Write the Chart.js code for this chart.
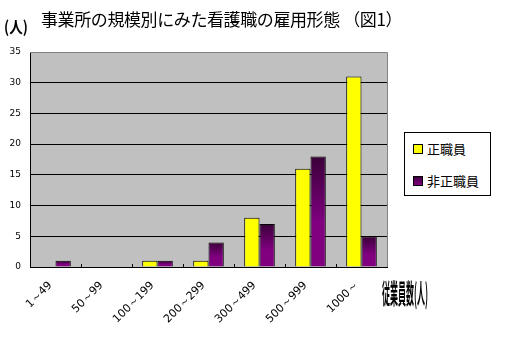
<!DOCTYPE html>
<html>
<head>
<meta charset="utf-8">
<script src="https://cdn.jsdelivr.net/npm/chart.js@4"></script>
<style>
    html, body { margin: 0; padding: 0; background: #fff; }
    #wrap { position: relative; width: 528px; height: 347px; font-family: "Noto Sans CJK JP", sans-serif; color: #000; }
    #chart { position: absolute; left: 0; top: 0; }
    .title { position: absolute; left: 41px; top: 6px; font-size: 17px; white-space: nowrap; letter-spacing: -0.4px; }
    .unit { position: absolute; left: 4px; top: 14px; font-size: 16px; font-weight: bold; transform: scaleX(0.85); transform-origin: left top; }
    .xtitle { position: absolute; left: 382px; top: 272px; font-size: 25px; font-weight: bold; white-space: nowrap; transform: scale(0.32, 1.1); transform-origin: left top; }
    .legend { position: absolute; left: 404px; top: 132px; width: 85px; height: 62px; border: 1px solid #000; background: #fff; font-size: 13px; }
    .legend div { position: absolute; left: 8px; white-space: nowrap; line-height: 14px; }
    .legend span { display: inline-block; width: 8px; height: 8px; border: 1px solid #000; margin-right: 4px; vertical-align: 0px; }
</style>
</head>
<body>
<div id="wrap">
    <canvas id="chart" width="528" height="347"></canvas>
    <div class="unit">(人)</div>
    <div class="title">事業所の規模別にみた看護職の雇用形態 （図1）</div>
    <div class="xtitle">従業員数(人)</div>
    <div class="legend">
        <div style="top:9px"><span style="background:#ffff00"></span>正職員</div>
        <div style="top:41px"><span style="background:linear-gradient(#400040,#800080)"></span>非正職員</div>
    </div>
</div>
<script>
(function () {
    'use strict';

    var categories = ['1～49', '50～99', '100～199', '200～299', '300～499', '500～999', '1000～'];
    var regular = [0, 0, 1, 1, 8, 16, 31];
    var nonRegular = [1, 0, 1, 4, 7, 18, 5];
    var yTicks = [0, 5, 10, 15, 20, 25, 30, 35];

    function purpleFill(ctx) {
        var chart = ctx.chart;
        var area = chart.chartArea;
        if (!area || ctx.type !== 'data') return '#800080';
        var y = chart.scales.y;
        var top = y.getPixelForValue(ctx.raw);
        var bottom = y.getPixelForValue(0);
        if (bottom - top < 1) return '#800080';
        var g = chart.ctx.createLinearGradient(0, top, 0, bottom);
        g.addColorStop(0, '#3a0038');
        g.addColorStop(0.6, '#800080');
        g.addColorStop(1, '#800080');
        return g;
    }

    // gray plot background, gray top/right frame, small ticks on x axis
    var plotDeco = {
        id: 'plotDeco',
        beforeDraw: function (chart) {
            var a = chart.chartArea, c = chart.ctx;
            c.save();
            c.fillStyle = '#c0c0c0';
            c.fillRect(a.left, a.top, a.right - a.left, a.bottom - a.top);
            c.restore();
        },
        afterDatasetsDraw: function (chart) {
            var a = chart.chartArea, c = chart.ctx, x = chart.scales.x;
            c.save();
            c.strokeStyle = '#808080';
            c.lineWidth = 1;
            c.beginPath();
            c.moveTo(a.left, a.top + 0.5);
            c.lineTo(a.right + 0.5, a.top + 0.5);
            c.lineTo(a.right + 0.5, a.bottom);
            c.stroke();
            c.strokeStyle = '#000';
            c.beginPath();
            for (var i = 1; i < categories.length; i++) {
                var px = Math.round((x.getPixelForValue(i - 1) + x.getPixelForValue(i)) / 2) + 0.5;
                c.moveTo(px, a.bottom);
                c.lineTo(px, a.bottom - 3);
            }
            c.stroke();
            c.restore();
        }
    };

    new Chart(document.getElementById('chart'), {
        type: 'bar',
        data: {
            labels: categories,
            datasets: [{
                label: '正職員',
                data: regular,
                backgroundColor: '#ffff00',
                borderColor: '#000',
                borderWidth: 1,
                borderSkipped: 'bottom',
                categoryPercentage: 0.6,
                barPercentage: 1
            }, {
                label: '非正職員',
                data: nonRegular,
                backgroundColor: purpleFill,
                borderColor: '#000',
                borderWidth: 1,
                borderSkipped: 'bottom',
                categoryPercentage: 0.6,
                barPercentage: 1
            }]
        },
        options: {
            responsive: false,
            animation: false,
            layout: { padding: { left: 0, top: 52, right: 141, bottom: 0 } },
            plugins: { legend: { display: false }, title: { display: false }, tooltip: { enabled: false } },
            scales: {
                x: {
                    grid: { display: false },
                    border: { color: '#000', width: 1 },
                    afterFit: function (s) { s.height = 80; },
                    ticks: {
                        color: '#000',
                        font: { family: 'DejaVu Sans', size: 11 },
                        minRotation: 45,
                        maxRotation: 45,
                        labelOffset: -5,
                        padding: 4
                    }
                },
                y: {
                    min: 0,
                    max: 35,
                    afterFit: function (s) { s.width = 30; },
                    afterBuildTicks: function (s) { s.ticks = yTicks.map(function (v) { return { value: v }; }); },
                    border: { color: '#000', width: 1 },
                    grid: {
                        drawTicks: false,
                        color: function (ctx) {
                            var v = ctx.tick ? ctx.tick.value : 0;
                            return (v === 0 || v === 35) ? 'rgba(0,0,0,0)' : '#000';
                        }
                    },
                    ticks: {
                        color: '#000',
                        font: { family: 'DejaVu Sans', size: 9 },
                        padding: 9
                    }
                }
            }
        },
        plugins: [plotDeco]
    });
})();
</script>
</body>
</html>
